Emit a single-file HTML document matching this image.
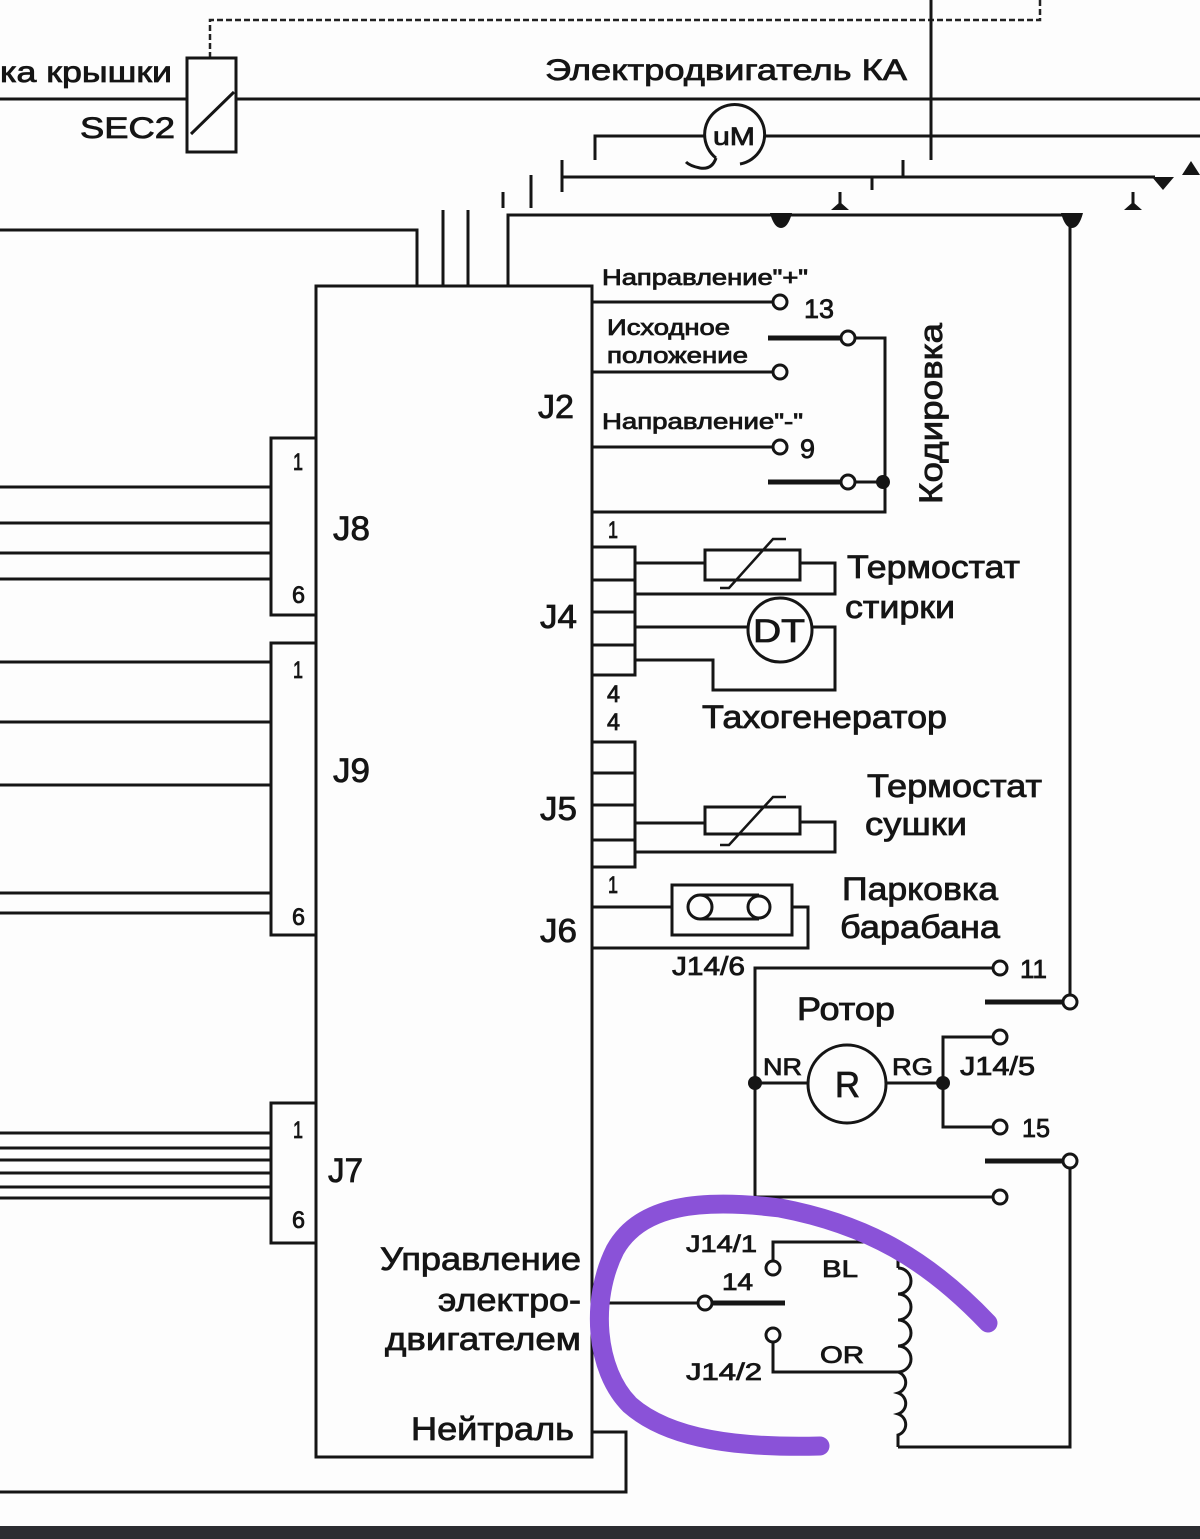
<!DOCTYPE html>
<html><head><meta charset="utf-8">
<style>
html,body{margin:0;padding:0;background:#fdfdfd;}
svg{display:block;}
text{font-family:"Liberation Sans","Noto Sans CJK SC",Arial,sans-serif;fill:#151515;stroke:#151515;stroke-width:0.8;}
</style></head><body>
<svg width="1200" height="1539" viewBox="0 0 1200 1539" xmlns="http://www.w3.org/2000/svg">
<rect width="1200" height="1539" fill="#fdfdfd"/>

<!-- dashed top -->
<path d="M210 58 V20 H1040 V0" fill="none" stroke="#222" stroke-width="2.5" stroke-dasharray="6 3"/>

<g fill="none" stroke="#151515" stroke-width="3">
  <!-- top wires -->
  <path d="M931 0 V160"/>
  <path d="M0 99 H187 M236 99 H1200"/>
  <rect x="187" y="58" width="49" height="94"/>
  <path d="M191 134 L234 92"/>
  <path d="M595 160 V136 H704 M765 136 H1200"/>
  <path d="M716 158 A30 30 0 1 1 740 164"/>
  <path d="M716 158 Q712 170 700 168 Q690 166 686 162"/>
  <path d="M562 160 V192 M562 177 H1155"/>
  <path d="M903 177 V160 M872 177 V190 M531 175 V208 M503 192 V208"/>
  <path d="M840 192 V206 M1133 192 V206"/>
  <path d="M508 287 V215 H1070 V995"/>
  <path d="M0 230 H417 V287 M443 210 V287 M468 210 V287"/>

  <!-- main rect -->
  <path d="M316 286 H592 V1457 H316 Z"/>

  <!-- J8 -->
  <rect x="271" y="438" width="45" height="177"/>
  <path d="M0 487 H271 M0 523 H271 M0 553 H271 M0 579 H271"/>
  <!-- J9 -->
  <rect x="271" y="643" width="45" height="292"/>
  <path d="M0 662 H271 M0 722 H271 M0 785 H271 M0 893 H271 M0 913 H271"/>
  <!-- J7 -->
  <rect x="271" y="1103" width="45" height="140"/>
  <path d="M0 1133 H271 M0 1148 H271 M0 1160 H271 M0 1173 H271 M0 1187 H271 M0 1198 H271"/>

  <!-- J2 -->
  <path d="M592 302 H773 M592 372 H773 M592 447 H773"/>
  <path d="M855 338 H885 V512 H592 M855 482 H885"/>

  <!-- J4 -->
  <rect x="592" y="547" width="43" height="128"/>
  <path d="M592 580 H635 M592 612 H635 M592 645 H635"/>
  <path d="M635 563 H705 M800 563 H835 V594 H635"/>
  <rect x="705" y="550" width="95" height="30"/>
  <path d="M635 627 H748 M812 627 H835 V690 H713 V660 H635"/>
  <circle cx="780" cy="630" r="32"/>

  <!-- J5 -->
  <rect x="592" y="742" width="43" height="125"/>
  <path d="M592 773 H635 M592 805 H635 M592 840 H635"/>
  <path d="M635 823 H705 M800 822 H835 V852 H635"/>
  <rect x="705" y="807" width="95" height="27"/>

  <!-- J6 -->
  <path d="M592 907 H672 M792 907 H808 V948 H592"/>
  <rect x="672" y="885" width="120" height="50"/>
  <path d="M700 895 H759 M700 919 H759"/>
  <circle cx="700" cy="907" r="12"/>
  <circle cx="759" cy="907" r="11"/>

  <!-- rotor -->
  <path d="M755 1197 V968 H993"/>
  <circle cx="847" cy="1084" r="39"/>
  <path d="M755 1083 H808 M886 1083 H943"/>
  <path d="M943 1083 V1037 H993 M943 1083 V1127 H993"/>
  <path d="M1070 1168 V1447 H898"/>
  <path d="M755 1197 H993"/>

  <!-- motor bottom -->
  <path d="M592 1303 H698"/>
  <path d="M773 1261 V1242 H898 V1268"/>
  <path d="M898 1268 a13 13 0 0 1 0 26 a13 13 0 0 1 0 26 a13 13 0 0 1 0 26 a13 13 0 0 1 0 26 a11 11 0 0 1 0 21 a11 11 0 0 1 0 21 a11 11 0 0 1 0 21 V1447"/>
  <path d="M773 1342 V1372 H898"/>
  <path d="M592 1432 H626 V1492 H0"/>
</g>

<!-- thermistor diagonals -->
<g fill="none" stroke="#151515" stroke-width="2.5">
  <path d="M720 588 H729 L773 539 H786"/>
  <path d="M720 845 H729 L773 797 H786"/>
</g>

<!-- thick contacts -->
<g fill="none" stroke="#151515" stroke-width="5">
  <path d="M768 338 H841 M768 482 H841"/>
  <path d="M985 1002 H1063 M985 1161 H1063"/>
  <path d="M712 1303 H785"/>
</g>

<!-- open circles -->
<g fill="#fdfdfd" stroke="#151515" stroke-width="3">
  <circle cx="780" cy="302" r="7"/>
  <circle cx="848" cy="338" r="7"/>
  <circle cx="780" cy="372" r="7"/>
  <circle cx="780" cy="447" r="7"/>
  <circle cx="848" cy="482" r="7"/>
  <circle cx="1000" cy="968" r="7"/>
  <circle cx="1070" cy="1002" r="7"/>
  <circle cx="1000" cy="1037" r="7"/>
  <circle cx="1000" cy="1127" r="7"/>
  <circle cx="1070" cy="1161" r="7"/>
  <circle cx="1000" cy="1197" r="7"/>
  <circle cx="705" cy="1303" r="7"/>
  <circle cx="773" cy="1268" r="7"/>
  <circle cx="773" cy="1335" r="7"/>
</g>

<!-- filled marks -->
<g fill="#151515" stroke="none">
  <circle cx="883" cy="482" r="7"/>
  <circle cx="755" cy="1083" r="7"/>
  <circle cx="943" cy="1083" r="7"/>
  <path d="M770 213 L792 213 Q788 228 781 228 Q774 228 770 213 Z"/>
  <path d="M1061 213 L1083 213 Q1079 228 1072 228 Q1065 228 1061 213 Z"/>
  <polygon points="1152,177 1174,177 1163,190"/>
  <polygon points="1182,175 1200,175 1191,161"/>
  <polygon points="831,210 849,210 840,202"/>
  <polygon points="1124,210 1142,210 1133,202"/>
</g>

<!-- texts -->
<text x="0" y="82" font-size="30" textLength="172" lengthAdjust="spacingAndGlyphs">ка крышки</text>
<text x="80" y="138" font-size="30" textLength="95" lengthAdjust="spacingAndGlyphs">SEC2</text>
<text x="545" y="80" font-size="30" textLength="362" lengthAdjust="spacingAndGlyphs">Электродвигатель КА</text>
<text x="713" y="145" font-size="25" textLength="42" lengthAdjust="spacingAndGlyphs">uM</text>

<text x="602" y="285" font-size="22" textLength="206" lengthAdjust="spacingAndGlyphs">Направление"+"</text>
<text x="804" y="318" font-size="27" textLength="30" lengthAdjust="spacingAndGlyphs">13</text>
<text x="607" y="335" font-size="22" textLength="123" lengthAdjust="spacingAndGlyphs">Исходное</text>
<text x="607" y="363" font-size="22" textLength="141" lengthAdjust="spacingAndGlyphs">положение</text>
<text x="538" y="418" font-size="33" textLength="36" lengthAdjust="spacingAndGlyphs">J2</text>
<text x="602" y="429" font-size="22" textLength="201" lengthAdjust="spacingAndGlyphs">Направление"-"</text>
<text x="800" y="458" font-size="27" textLength="15" lengthAdjust="spacingAndGlyphs">9</text>
<text transform="translate(942,504) rotate(-90)" x="0" y="0" font-size="32" textLength="181" lengthAdjust="spacingAndGlyphs">Кодировка</text>

<text x="608" y="538" font-size="24" textLength="10" lengthAdjust="spacingAndGlyphs">1</text>
<text x="847" y="578" font-size="32" textLength="173" lengthAdjust="spacingAndGlyphs">Термостат</text>
<text x="845" y="618" font-size="32" textLength="110" lengthAdjust="spacingAndGlyphs">стирки</text>
<text x="540" y="628" font-size="33" textLength="37" lengthAdjust="spacingAndGlyphs">J4</text>
<text x="753" y="642" font-size="32" textLength="52" lengthAdjust="spacingAndGlyphs">DT</text>
<text x="607" y="702" font-size="24" textLength="13" lengthAdjust="spacingAndGlyphs">4</text>
<text x="607" y="730" font-size="24" textLength="13" lengthAdjust="spacingAndGlyphs">4</text>
<text x="702" y="728" font-size="32" textLength="245" lengthAdjust="spacingAndGlyphs">Тахогенератор</text>
<text x="867" y="797" font-size="32" textLength="175" lengthAdjust="spacingAndGlyphs">Термостат</text>
<text x="865" y="835" font-size="32" textLength="102" lengthAdjust="spacingAndGlyphs">сушки</text>
<text x="540" y="820" font-size="33" textLength="37" lengthAdjust="spacingAndGlyphs">J5</text>
<text x="608" y="893" font-size="24" textLength="10" lengthAdjust="spacingAndGlyphs">1</text>
<text x="842" y="900" font-size="32" textLength="156" lengthAdjust="spacingAndGlyphs">Парковка</text>
<text x="840" y="938" font-size="32" textLength="160" lengthAdjust="spacingAndGlyphs">барабана</text>
<text x="540" y="942" font-size="33" textLength="37" lengthAdjust="spacingAndGlyphs">J6</text>
<text x="672" y="975" font-size="26" textLength="73" lengthAdjust="spacingAndGlyphs">J14/6</text>
<text x="1020" y="978" font-size="26" textLength="27" lengthAdjust="spacingAndGlyphs">11</text>
<text x="797" y="1020" font-size="32" textLength="98" lengthAdjust="spacingAndGlyphs">Ротор</text>
<text x="763" y="1075" font-size="24" textLength="39" lengthAdjust="spacingAndGlyphs">NR</text>
<text x="892" y="1075" font-size="24" textLength="41" lengthAdjust="spacingAndGlyphs">RG</text>
<text x="835" y="1097" font-size="36" textLength="25" lengthAdjust="spacingAndGlyphs">R</text>
<text x="960" y="1075" font-size="26" textLength="75" lengthAdjust="spacingAndGlyphs">J14/5</text>
<text x="1022" y="1137" font-size="26" textLength="28" lengthAdjust="spacingAndGlyphs">15</text>

<text x="380" y="1270" font-size="32" textLength="201" lengthAdjust="spacingAndGlyphs">Управление</text>
<text x="438" y="1311" font-size="32" textLength="143" lengthAdjust="spacingAndGlyphs">электро-</text>
<text x="385" y="1350" font-size="32" textLength="196" lengthAdjust="spacingAndGlyphs">двигателем</text>
<text x="411" y="1440" font-size="32" textLength="163" lengthAdjust="spacingAndGlyphs">Нейтраль</text>
<text x="686" y="1252" font-size="24" textLength="71" lengthAdjust="spacingAndGlyphs">J14/1</text>
<text x="722" y="1290" font-size="24" textLength="31" lengthAdjust="spacingAndGlyphs">14</text>
<text x="822" y="1277" font-size="24" textLength="36" lengthAdjust="spacingAndGlyphs">BL</text>
<text x="820" y="1363" font-size="24" textLength="44" lengthAdjust="spacingAndGlyphs">OR</text>
<text x="686" y="1380" font-size="24" textLength="76" lengthAdjust="spacingAndGlyphs">J14/2</text>

<text x="293" y="470" font-size="24" textLength="10" lengthAdjust="spacingAndGlyphs">1</text>
<text x="292" y="603" font-size="24" textLength="13" lengthAdjust="spacingAndGlyphs">6</text>
<text x="333" y="540" font-size="34" textLength="37" lengthAdjust="spacingAndGlyphs">J8</text>
<text x="293" y="678" font-size="24" textLength="10" lengthAdjust="spacingAndGlyphs">1</text>
<text x="292" y="925" font-size="24" textLength="13" lengthAdjust="spacingAndGlyphs">6</text>
<text x="333" y="782" font-size="34" textLength="37" lengthAdjust="spacingAndGlyphs">J9</text>
<text x="293" y="1138" font-size="24" textLength="10" lengthAdjust="spacingAndGlyphs">1</text>
<text x="292" y="1228" font-size="24" textLength="13" lengthAdjust="spacingAndGlyphs">6</text>
<text x="328" y="1182" font-size="34" textLength="35" lengthAdjust="spacingAndGlyphs">J7</text>

<!-- purple highlight -->
<path d="M988 1323 C930 1262 870 1225 780 1208 C700 1198 640 1205 615 1250 C590 1300 595 1370 630 1405 C670 1440 740 1448 820 1446" fill="none" stroke="#8a52d8" stroke-width="19" stroke-linecap="round" stroke-linejoin="round"/>

<!-- bottom bar -->
<rect x="0" y="1526" width="1200" height="13" fill="#2c2d31"/>
</svg>
</body></html>
